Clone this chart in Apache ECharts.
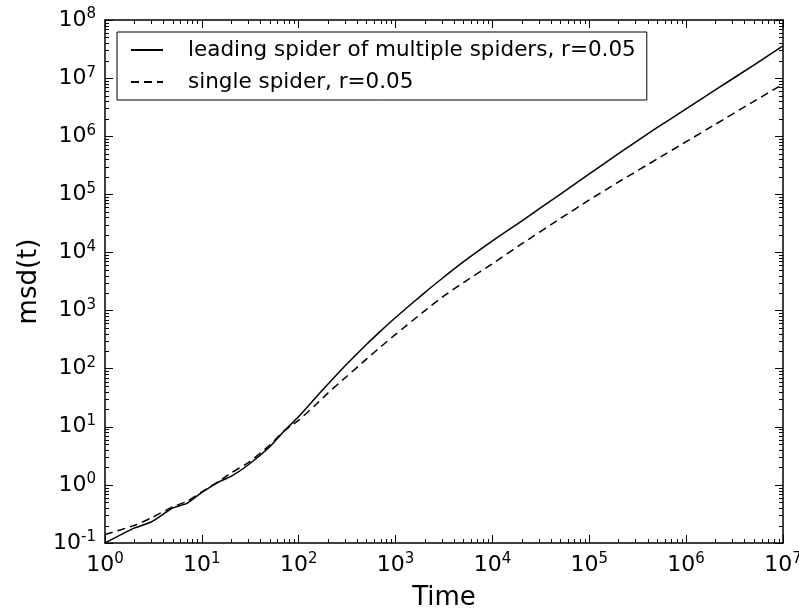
<!DOCTYPE html>
<html>
<head>
<meta charset="utf-8">
<script src="https://cdn.jsdelivr.net/npm/echarts@6/dist/echarts.min.js"></script>
<style>
  html, body { margin: 0; padding: 0; background: #fff; }
  #chart { width: 799px; height: 611px; }
</style>
</head>
<body>
<div id="chart"></div>
<script>
// time points (log spaced) and msd values
const times = [1, 2, 3, 5, 7, 10, 15, 20, 30, 50, 70, 100, 150, 200, 300, 500, 700,
  1e3, 2e3, 3e3, 5e3, 1e4, 2e4, 5e4, 1e5, 2e5, 5e5, 1e6, 2e6, 5e6, 1e7];
const leading = [0.1, 0.18, 0.23, 0.4, 0.48, 0.74, 1.13, 1.4, 2.2, 4.5, 8.3, 15, 32, 54, 111, 261, 443,
  760, 2040, 3530, 6870, 15800, 34700, 1.0e5, 2.24e5, 5.0e5, 1.4e6, 2.96e6, 6.25e6, 1.68e7, 3.58e7];
const single = [0.14, 0.2, 0.27, 0.42, 0.52, 0.76, 1.15, 1.6, 2.4, 4.8, 8.4, 13, 24, 38, 69, 146, 237,
  389, 990, 1680, 3020, 6380, 1.4e4, 3.82e4, 8.0e4, 1.63e5, 4.04e5, 8.05e5, 1.6e6, 3.98e6, 7.9e6];
const seriesNames = ['leading spider of multiple spiders, r=0.05', 'single spider, r=0.05'];

const xMin = 1, xMax = 1e7;
const yMin = 0.1, yMax = 1e8;

const font = 'DejaVu Sans';
const chartDom = document.getElementById('chart');
const myChart = echarts.init(chartDom);

function powLabel(v) {
  const e = Math.round(Math.log10(v));
  return '10{sup|' + e + '}';
}

const tickLabel = {
  fontFamily: font,
  fontSize: 22,
  color: '#000',
  formatter: powLabel,
  rich: {
    sup: { fontFamily: font, fontSize: 15, verticalAlign: 'top', padding: [0, 0, 11, 0], color: '#000' }
  }
};

const frameLine = { show: true, lineStyle: { color: '#000', width: 1.5 } };
const majorTick = { show: true, inside: true, length: 8, lineStyle: { color: '#000', width: 1 } };

const option = {
  backgroundColor: '#fff',
  animation: false,
  grid: { left: 105, right: 16, top: 20, bottom: 68, outerBoundsMode: 'none' },
  legend: {
    left: 117,
    top: 32,
    orient: 'vertical',
    borderColor: '#000',
    borderWidth: 1,
    borderRadius: 0,
    padding: [7, 11, 7, 13],
    itemGap: 10,
    itemWidth: 32,
    itemHeight: 14,
    itemStyle: { opacity: 0 },
    textStyle: { fontFamily: font, fontSize: 21.5, color: '#000', padding: [0, 0, 0, 20] },
    data: seriesNames
  },
  xAxis: [
    {
      type: 'log', logBase: 10, min: xMin, max: xMax, splitNumber: 7,
      name: 'Time', nameLocation: 'middle', nameGap: 42,
      nameTextStyle: { fontFamily: font, fontSize: 26, color: '#000' },
      axisLine: frameLine, axisTick: majorTick,
      axisLabel: Object.assign({ margin: 9 }, tickLabel),
      splitLine: { show: false }
    },
    {
      type: 'log', logBase: 10, min: xMin, max: xMax, splitNumber: 7, position: 'top',
      axisLine: frameLine, axisTick: majorTick, axisLabel: { show: false }, splitLine: { show: false }
    }
  ],
  yAxis: [
    {
      type: 'log', logBase: 10, min: yMin, max: yMax, splitNumber: 9,
      name: 'msd(t)', nameLocation: 'middle', nameGap: 58,
      nameTextStyle: { fontFamily: font, fontSize: 26, color: '#000' },
      axisLine: frameLine, axisTick: majorTick,
      axisLabel: Object.assign({ margin: 9 }, tickLabel),
      splitLine: { show: false }
    },
    {
      type: 'log', logBase: 10, min: yMin, max: yMax, splitNumber: 9, position: 'right',
      axisLine: frameLine, axisTick: majorTick, axisLabel: { show: false }, splitLine: { show: false }
    }
  ],
  series: [
    {
      name: seriesNames[0],
      type: 'line',
      data: times.map((t, i) => [t, leading[i]]),
      showSymbol: false, symbol: 'none',
      smooth: 0.2,
      lineStyle: { color: '#000', width: 1.5, type: 'solid' },
      itemStyle: { color: '#000' },
      emphasis: { disabled: true }
    },
    {
      name: seriesNames[1],
      type: 'line',
      data: times.map((t, i) => [t, single[i]]),
      showSymbol: false, symbol: 'none',
      smooth: 0.2,
      lineStyle: { color: '#000', width: 1.5, type: [8, 5] },
      itemStyle: { color: '#000' },
      emphasis: { disabled: true }
    }
  ]
};

myChart.setOption(option);

// minor ticks (2..9 x 10^n) on all four sides, drawn inward like the original
function minorValues(lo, hi) {
  const out = [];
  for (let e = Math.floor(Math.log10(lo)); e < Math.ceil(Math.log10(hi)); e++) {
    for (let m = 2; m <= 9; m++) {
      const v = m * Math.pow(10, e);
      if (v > lo && v < hi) out.push(v);
    }
  }
  return out;
}

const pxLeft = myChart.convertToPixel({ xAxisIndex: 0 }, xMin);
const pxRight = myChart.convertToPixel({ xAxisIndex: 0 }, xMax);
const pxTop = myChart.convertToPixel({ yAxisIndex: 0 }, yMax);
const pxBottom = myChart.convertToPixel({ yAxisIndex: 0 }, yMin);
const minorLen = 4;
const graphics = [];
const tickStyle = { stroke: '#000', lineWidth: 1 };

minorValues(xMin, xMax).forEach(v => {
  const x = Math.round(myChart.convertToPixel({ xAxisIndex: 0 }, v)) + 0.5;
  graphics.push({ type: 'line', silent: true, shape: { x1: x, y1: pxBottom, x2: x, y2: pxBottom - minorLen }, style: tickStyle });
  graphics.push({ type: 'line', silent: true, shape: { x1: x, y1: pxTop, x2: x, y2: pxTop + minorLen }, style: tickStyle });
});
minorValues(yMin, yMax).forEach(v => {
  const y = Math.round(myChart.convertToPixel({ yAxisIndex: 0 }, v)) + 0.5;
  graphics.push({ type: 'line', silent: true, shape: { x1: pxLeft, y1: y, x2: pxLeft + minorLen, y2: y }, style: tickStyle });
  graphics.push({ type: 'line', silent: true, shape: { x1: pxRight, y1: y, x2: pxRight - minorLen, y2: y }, style: tickStyle });
});

myChart.setOption({ graphic: graphics });
window.addEventListener('resize', () => myChart.resize());
</script>
</body>
</html>
